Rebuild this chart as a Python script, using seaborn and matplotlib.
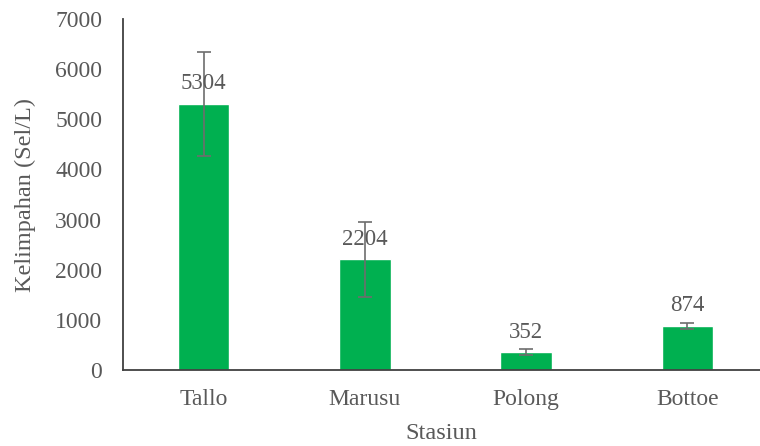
import numpy as np
import pandas as pd
import seaborn as sns
import matplotlib.pyplot as plt

stasiun = ['Tallo', 'Marusu', 'Polong', 'Bottoe']
kelimpahan = [5304, 2204, 352, 874]
galat = [1030, 745, 60, 60]

df = pd.DataFrame({'Stasiun': stasiun, 'Kelimpahan': kelimpahan})

sns.set_style('white')
plt.rcParams['font.family'] = ['Liberation Serif', 'DejaVu Serif']
grey = '#595959'

fig = plt.figure(figsize=(7.6, 4.46), dpi=100)
ax = fig.add_axes([123 / 760, 1 - 370 / 446, 1 - 123 / 760, (370 - 19) / 446])

sns.barplot(data=df, x='Stasiun', y='Kelimpahan', color='#00B050',
            width=0.32, saturation=1, ax=ax)
ax.errorbar(np.arange(len(stasiun)), kelimpahan, yerr=galat, fmt='none',
            ecolor='#6d6d6d', elinewidth=1.2, capsize=5, capthick=1.2)

for i, v in enumerate(kelimpahan):
    ax.annotate(str(v), (i, v), xytext=(0, 7), textcoords='offset points',
                ha='center', va='bottom', fontsize=16.5, color=grey)

ax.set_ylim(0, 7000)
ax.set_xlim(-0.5, 3.45)
ax.set_yticks(range(0, 7001, 1000))
ax.tick_params(axis='y', length=0, labelsize=17, labelcolor=grey, pad=15)
ax.tick_params(axis='x', length=0, labelsize=17, labelcolor=grey, pad=14)
ax.set_xlabel('Stasiun', fontsize=17.5, color=grey, labelpad=9)
ax.set_ylabel('Kelimpahan (Sel/L)', fontsize=17.5, color=grey, labelpad=14)

for s in ['top', 'right']:
    ax.spines[s].set_visible(False)
ax.spines['left'].set_color('#404040')
ax.spines['bottom'].set_color('#404040')
ax.spines['left'].set_linewidth(1.3)
ax.spines['bottom'].set_linewidth(1.3)

fig.savefig('out.png', dpi=100)
